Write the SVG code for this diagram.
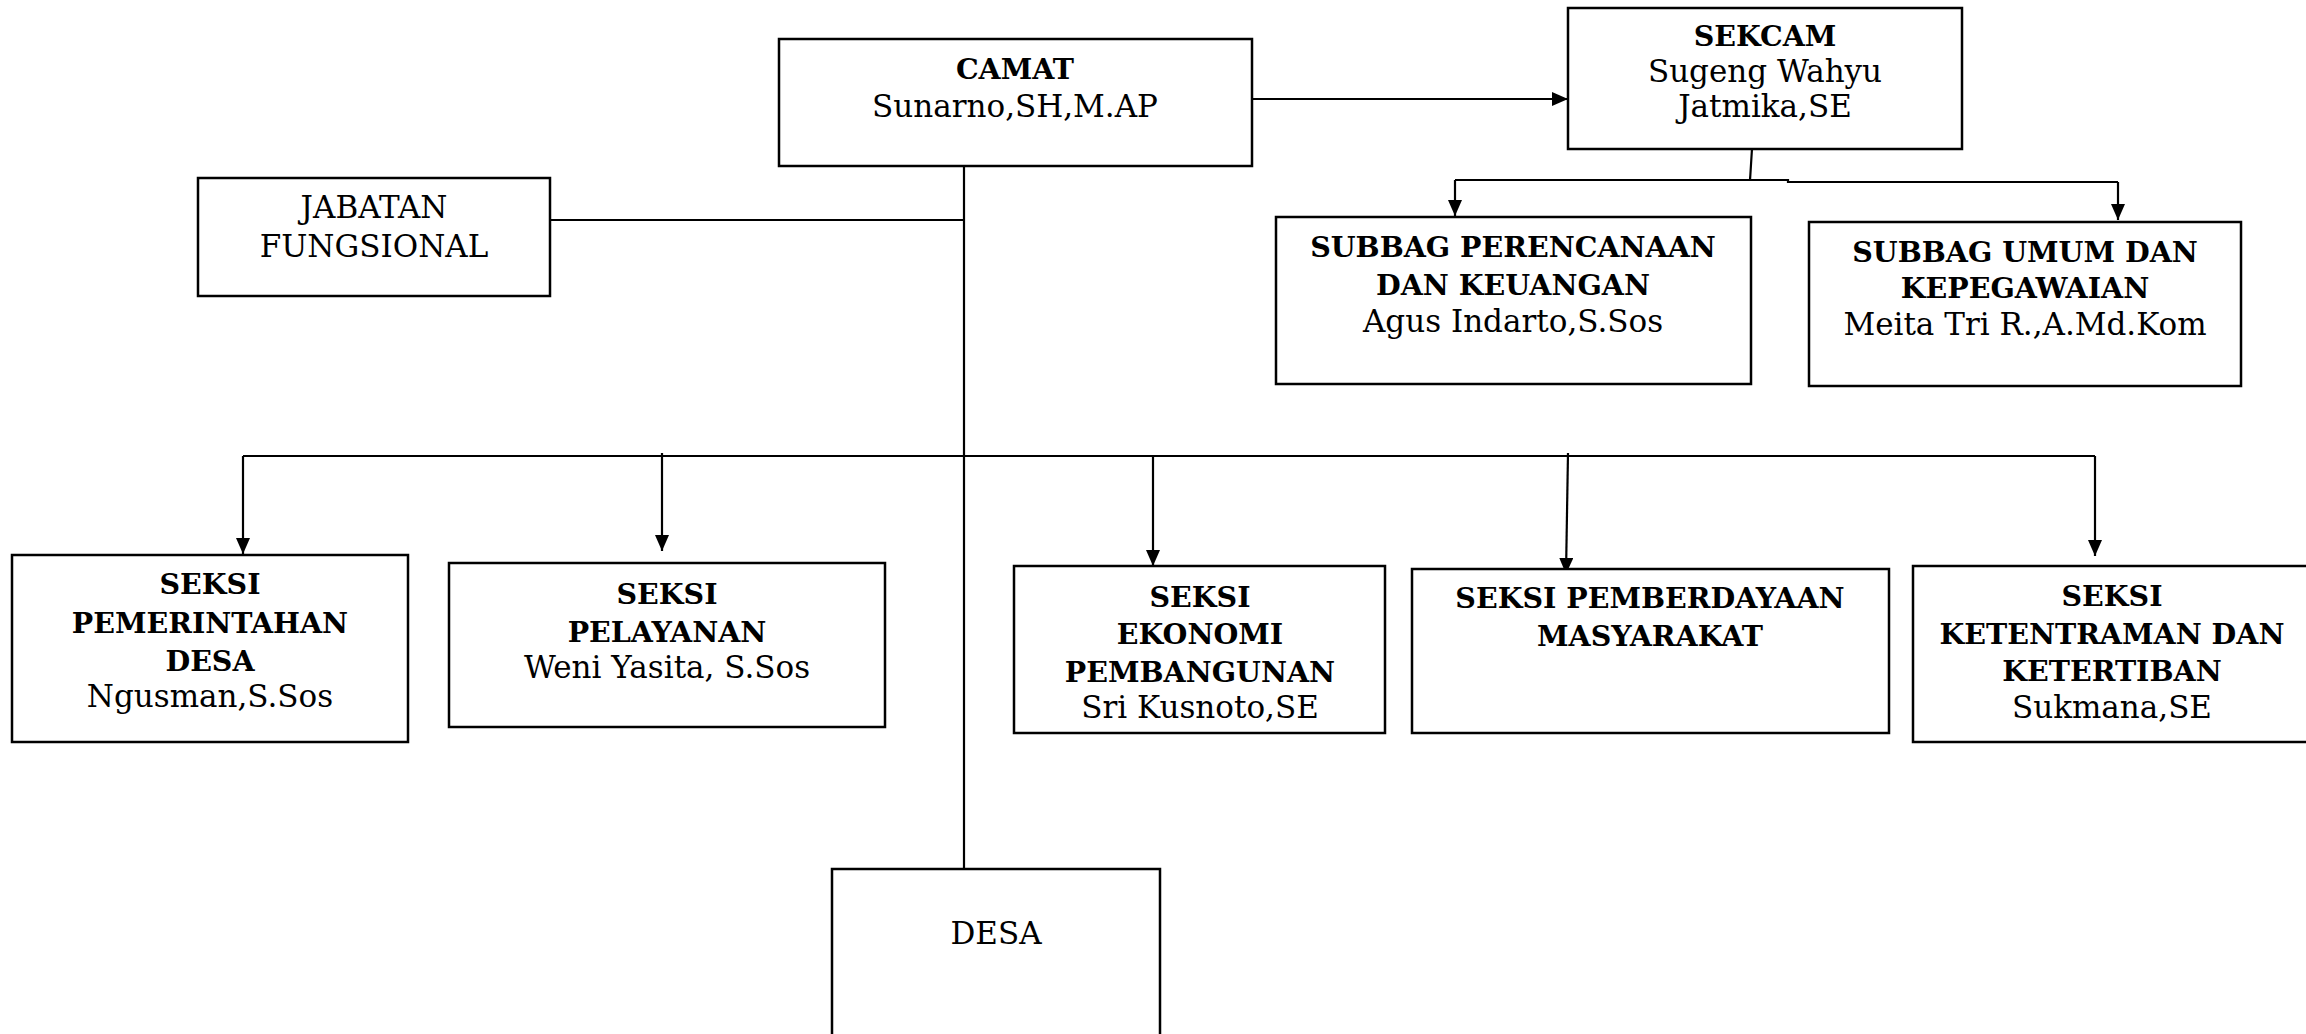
<svg xmlns="http://www.w3.org/2000/svg" width="2306" height="1034" viewBox="0 0 2306 1034">
<style>
.box{fill:#fff;stroke:#000;stroke-width:2.5}
.ln{fill:none;stroke:#000;stroke-width:2.2}
text{font-family:"DejaVu Serif","Liberation Serif",serif;font-size:31px;fill:#000;text-anchor:middle}
.b{font-weight:bold;font-size:28.5px}
</style>
<defs>
<marker id="ah" markerUnits="userSpaceOnUse" markerWidth="16" markerHeight="14" refX="16" refY="7" orient="auto">
<path d="M0,0 L16,7 L0,14 z" fill="#000"/>
</marker>
</defs>
<rect width="2306" height="1034" fill="#fff"/>
<g id="connectors">
<line class="ln" x1="1252" y1="99" x2="1568" y2="99" marker-end="url(#ah)"/>
<line class="ln" x1="1752" y1="149" x2="1750" y2="180"/>
<polyline class="ln" points="1455,180 1788,180 1788,182 2118,182"/>
<line class="ln" x1="1455" y1="180" x2="1455" y2="216" marker-end="url(#ah)"/>
<line class="ln" x1="2118" y1="182" x2="2118" y2="220" marker-end="url(#ah)"/>
<line class="ln" x1="964" y1="166" x2="964" y2="869"/>
<line class="ln" x1="550" y1="220" x2="964" y2="220"/>
<line class="ln" x1="243" y1="456" x2="2095" y2="456"/>
<line class="ln" x1="243" y1="456" x2="243" y2="554" marker-end="url(#ah)"/>
<line class="ln" x1="662" y1="453" x2="662" y2="551" marker-end="url(#ah)"/>
<line class="ln" x1="1153" y1="456" x2="1153" y2="566" marker-end="url(#ah)"/>
<line class="ln" x1="1568" y1="453" x2="1566" y2="574" marker-end="url(#ah)"/>
<line class="ln" x1="2095" y1="456" x2="2095" y2="556" marker-end="url(#ah)"/>
</g>
<g id="camat">
<rect class="box" x="779" y="39" width="473" height="127"/>
<text class="b" x="1015" y="79">CAMAT</text>
<text x="1015" y="117">Sunarno,SH,M.AP</text>
</g>
<g id="sekcam">
<rect class="box" x="1568" y="8" width="394" height="141"/>
<text class="b" x="1765" y="46">SEKCAM</text>
<text x="1765" y="82">Sugeng Wahyu</text>
<text x="1765" y="117">Jatmika,SE</text>
</g>
<g id="subbag-perencanaan">
<rect class="box" x="1276" y="217" width="475" height="167"/>
<text class="b" x="1513" y="257">SUBBAG PERENCANAAN</text>
<text class="b" x="1513" y="295">DAN KEUANGAN</text>
<text x="1513" y="332">Agus Indarto,S.Sos</text>
</g>
<g id="subbag-umum">
<rect class="box" x="1809" y="222" width="432" height="164"/>
<text class="b" x="2025" y="262">SUBBAG UMUM DAN</text>
<text class="b" x="2025" y="298">KEPEGAWAIAN</text>
<text x="2025" y="335">Meita Tri R.,A.Md.Kom</text>
</g>
<g id="jabatan-fungsional">
<rect class="box" x="198" y="178" width="352" height="118"/>
<text x="374" y="218">JABATAN</text>
<text x="374" y="257">FUNGSIONAL</text>
</g>
<g id="seksi-pemerintahan">
<rect class="box" x="12" y="555" width="396" height="187"/>
<text class="b" x="210" y="594">SEKSI</text>
<text class="b" x="210" y="633">PEMERINTAHAN</text>
<text class="b" x="210" y="671">DESA</text>
<text x="210" y="707">Ngusman,S.Sos</text>
</g>
<g id="seksi-pelayanan">
<rect class="box" x="449" y="563" width="436" height="164"/>
<text class="b" x="667" y="604">SEKSI</text>
<text class="b" x="667" y="642">PELAYANAN</text>
<text x="667" y="678">Weni Yasita, S.Sos</text>
</g>
<g id="seksi-ekonomi">
<rect class="box" x="1014" y="566" width="371" height="167"/>
<text class="b" x="1200" y="607">SEKSI</text>
<text class="b" x="1200" y="644">EKONOMI</text>
<text class="b" x="1200" y="682">PEMBANGUNAN</text>
<text x="1200" y="718">Sri Kusnoto,SE</text>
</g>
<g id="seksi-pemberdayaan">
<rect class="box" x="1412" y="569" width="477" height="164"/>
<text class="b" x="1650" y="608">SEKSI PEMBERDAYAAN</text>
<text class="b" x="1650" y="646">MASYARAKAT</text>
</g>
<g id="seksi-ketentraman">
<rect class="box" x="1913" y="566" width="398" height="176"/>
<text class="b" x="2112" y="606">SEKSI</text>
<text class="b" x="2112" y="644">KETENTRAMAN DAN</text>
<text class="b" x="2112" y="681">KETERTIBAN</text>
<text x="2112" y="718">Sukmana,SE</text>
</g>
<g id="desa">
<rect class="box" x="832" y="869" width="328" height="180"/>
<text x="996" y="944">DESA</text>
</g>
</svg>
